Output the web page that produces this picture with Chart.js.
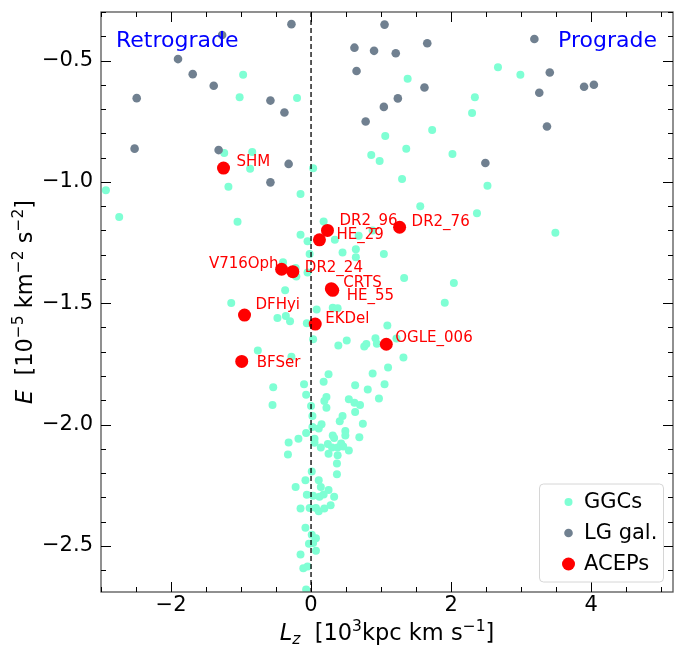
<!DOCTYPE html>
<html><head><meta charset="utf-8">
<script src="https://cdn.jsdelivr.net/npm/chart.js@4.4.0/dist/chart.umd.min.js"></script>
<style>html,body{margin:0;padding:0;background:#fff;}</style>
</head><body>
<canvas id="c" width="674" height="646" style="width:674px;height:646px;display:block"></canvas>
<script>
// ---- data ----
const ggcX = [-0.97,-1.02,-0.20,-1.24,-0.84,-0.87,0.03,-1.18,-0.15,-2.93,
 2.67,1.38,2.34,2.30,1.73,1.06,1.36,0.86,0.98,2.02,1.30,2.52,1.56,
 2.99,2.37,3.49,
 -2.74,-1.05,-0.15,-0.05,0.18,-0.02,-0.40,-0.22,-0.21,-0.05,-0.37,-1.14,0.08,-0.48,-0.36,-0.30,-0.06,0.03,-0.76,-0.28,-0.54,-0.10,0.18,
 0.34,0.68,0.88,0.45,0.64,0.64,1.04,1.33,2.04,1.91,0.31,0.38,1.09,0.51,0.39,0.76,0.79,0.92,0.94,1.22,1.32,1.10,0.88,0.25,0.63,0.81,1.05,
 -0.55,-0.07,0.00,0.02,-0.07,-0.18,-0.32,-0.33,0.05,0.14,0.01,-0.08,-0.22,-0.06,-0.15,-0.02,-0.08,0.01,-0.03,-0.15,-0.11,-0.07,
 0.22,0.19,0.97,0.54,0.62,0.70,0.22,0.63,0.45,0.41,0.74,0.15,0.02,0.11,0.05,0.31,0.33,0.49,0.49,0.69,0.24,0.30,0.25,0.38,0.43,0.46,0.54,0.38,0.37,0.37,0.11,0.14,0.25,0.18,0.33,0.12,0.03,0.07,0.11,0.19,0.28,0.07,0.03,0.07,-0.05];
const ggcY = [-0.559,-0.651,-0.654,-0.881,-0.877,-0.946,-0.944,-1.02,-1.05,-1.034,
 -0.528,-0.575,-0.651,-0.716,-0.786,-0.811,-0.864,-0.889,-0.914,-0.885,-0.988,-1.016,-1.10,
 -0.559,-1.129,-1.21,
 -1.145,-1.164,-1.218,-1.245,-1.163,-1.297,-1.331,-1.355,-1.39,-1.373,-1.447,-1.499,-1.526,-1.561,-1.553,-1.574,-1.583,-1.648,-1.695,-1.721,-1.846,-1.834,-1.824,
 -1.238,-1.222,-1.20,-1.291,-1.278,-1.311,-1.297,-1.396,-1.417,-1.498,-1.519,-1.521,-1.592,-1.654,-1.674,-1.678,-1.668,-1.644,-1.667,-1.645,-1.724,-1.765,-1.79,-1.793,-1.838,-1.856,-1.834,
 -1.919,-1.877,-1.924,-1.965,-2.035,-2.059,-2.074,-2.123,-2.059,-2.095,-2.193,-2.229,-2.257,-2.289,-2.346,-2.344,-2.425,-2.454,-2.491,-2.535,-2.592,-2.68,
 -1.886,-1.903,-1.893,-1.896,-1.91,-1.919,-1.931,-1.948,-1.965,-1.986,-1.997,-1.999,-2.01,-2.016,-2.075,-2.045,-2.055,-2.027,-2.045,-2.052,-2.08,-2.095,-2.12,-2.095,-2.078,-2.09,-2.107,-2.126,-2.16,-2.205,-2.23,-2.257,-2.27,-2.288,-2.298,-2.298,-2.293,-2.344,-2.357,-2.346,-2.333,-2.468,-2.488,-2.52,-2.585];
const lgX = [-0.28,-1.27,-1.90,-1.69,-1.39,-2.49,-0.58,-0.38,-2.52,-1.32,-0.32,-0.58,
 1.05,0.62,0.90,1.21,1.66,0.65,1.62,1.24,1.04,0.78,2.49,3.19,3.41,3.26,3.90,4.04,3.37];
const lgY = [-0.35,-0.395,-0.494,-0.556,-0.604,-0.655,-0.665,-0.714,-0.863,-0.869,-0.926,-1.002,
 -0.352,-0.447,-0.46,-0.47,-0.429,-0.543,-0.611,-0.656,-0.691,-0.751,-0.922,-0.411,-0.549,-0.633,-0.608,-0.60,-0.772];
const acepNames = ['SHM','V716Oph','DR2_24','DFHyi','BFSer','EKDel','HE_29','DR2_96','DR2_76','CRTS','HE_55','OGLE_006'];
const acepX = [-1.25,-0.42,-0.26,-0.95,-0.99,0.06,0.12,0.235,1.265,0.29,0.31,1.075];
const acepY = [-0.943,-1.36,-1.37,-1.549,-1.74,-1.586,-1.239,-1.20,-1.187,-1.44,-1.447,-1.669];
const xTicks = [-2,0,2,4];
const yTicks = [-2.5,-2.0,-1.5,-1.0,-0.5];
const seriesNames = ['GGCs','LG gal.','ACEPs'];

// ---- styling (label offsets in px relative to the point) ----
const labelStyle = {
 'SHM':[13,-6,'left'],'V716Oph':[-3,-5,'right'],'DR2_24':[12,-4,'left'],'DFHyi':[11,-10,'left'],
 'BFSer':[15,2,'left'],'EKDel':[10,-5,'left'],'HE_29':[17,-5,'left'],'DR2_96':[12,-9,'left'],
 'DR2_76':[12,-5,'left'],'CRTS':[12,-6,'left'],'HE_55':[14,6,'left'],'OGLE_006':[9,-6,'left']};
const FONT = 'DejaVu Sans';
const C_GGC = '#7fffd4', C_LG = '#708090', C_ACEP = '#ff0000';

const pts = (xs, ys) => xs.map((x,i)=>({x:x, y:ys[i]}));
const fmt = v => (v<0?'\u2212':'') + Math.abs(v);
const noPad = s => { s.paddingTop = 0; s.paddingBottom = 0; s.paddingLeft = 0; s.paddingRight = 0; };

function drawRich(ctx, parts, x, y){
  let w = 0;
  parts.forEach(p=>{ ctx.font = p.f; w += ctx.measureText(p.t).width; });
  let cx = x - w/2;
  ctx.textAlign = 'left'; ctx.textBaseline = 'alphabetic';
  parts.forEach(p=>{ ctx.font = p.f; ctx.fillText(p.t, cx, y + (p.dy||0)); cx += ctx.measureText(p.t).width; });
}

const decor = {
  id:'decor',
  afterDatasetsDraw(chart){
    const ctx = chart.ctx, a = chart.chartArea, xs = chart.scales.x, ys = chart.scales.y;
    ctx.save();
    // dashed zero line
    const x0 = xs.getPixelForValue(0);
    ctx.strokeStyle = '#000'; ctx.lineWidth = 1.3; ctx.setLineDash([5,3]);
    ctx.beginPath(); ctx.moveTo(x0, a.top); ctx.lineTo(x0, a.bottom); ctx.stroke();
    ctx.setLineDash([]);
    // ACEP labels
    ctx.fillStyle = C_ACEP; ctx.font = '15px "'+FONT+'"'; ctx.textBaseline = 'middle';
    acepNames.forEach((n,i)=>{
      const s = labelStyle[n];
      const px = xs.getPixelForValue(acepX[i]), py = ys.getPixelForValue(acepY[i]);
      ctx.textAlign = s[2]; ctx.fillText(n, px + s[0], py + s[1]);
    });
    // region labels
    ctx.fillStyle = '#0000ff'; ctx.font = '22px "'+FONT+'"'; ctx.textBaseline = 'middle';
    ctx.textAlign = 'left'; ctx.fillText('Retrograde', a.left + 15, a.top + 29);
    ctx.textAlign = 'right'; ctx.fillText('Prograde', a.right - 16, a.top + 29);
    // frame
    ctx.strokeStyle = '#555'; ctx.lineWidth = 1.3;
    ctx.strokeRect(a.left, a.top, a.right - a.left, a.bottom - a.top);
    // ticks (inward, all sides)
    ctx.strokeStyle = '#000'; ctx.lineWidth = 1;
    ctx.beginPath();
    for (let v = -3; v <= 5.2; v += 0.5) {
      const px = Math.round(xs.getPixelForValue(v)) + 0.5;
      if (px < a.left || px > a.right) continue;
      const L = (Math.abs(v % 2) < 1e-9) ? 10 : 5;
      ctx.moveTo(px, a.bottom); ctx.lineTo(px, a.bottom - L);
      ctx.moveTo(px, a.top); ctx.lineTo(px, a.top + L);
    }
    for (let k = -27; k <= -3; k++) {
      const v = k/10;
      const py = Math.round(ys.getPixelForValue(v)) + 0.5;
      if (py < a.top || py > a.bottom) continue;
      const L = (k % 5 === 0) ? 10 : 5;
      ctx.moveTo(a.left, py); ctx.lineTo(a.left + L, py);
      ctx.moveTo(a.right, py); ctx.lineTo(a.right - L, py);
    }
    ctx.stroke();
    // legend
    const bx = 539.5, by = 484, bw = 124, bh = 98;
    ctx.fillStyle = 'rgba(255,255,255,0.85)'; ctx.strokeStyle = '#d6d6d6'; ctx.lineWidth = 1;
    ctx.beginPath(); ctx.roundRect(bx, by, bw, bh, 4); ctx.fill(); ctx.stroke();
    const cols = [C_GGC, C_LG, C_ACEP], rad = [4, 4.3, 6.5], ly = [502, 533, 564];
    ctx.font = '21px "'+FONT+'"'; ctx.textAlign = 'left'; ctx.textBaseline = 'middle';
    seriesNames.forEach((n,i)=>{
      ctx.fillStyle = cols[i]; ctx.beginPath(); ctx.arc(568.5, ly[i], rad[i], 0, Math.PI*2); ctx.fill();
      ctx.fillStyle = '#000'; ctx.fillText(n, 584, ly[i] + 1);
    });
    // axis titles
    ctx.fillStyle = '#000';
    const big = '22.5px "'+FONT+'"', bigI = 'italic 22.5px "'+FONT+'"', sm = '15.5px "'+FONT+'"', smI = 'italic 15.5px "'+FONT+'"';
    drawRich(ctx, [{t:'L',f:bigI},{t:'z',f:smI,dy:4},{t:'  [10',f:big},{t:'3',f:sm,dy:-9},{t:'kpc km s',f:big},{t:'\u22121',f:sm,dy:-9},{t:']',f:big}],
      (a.left + a.right)/2, 640);
    ctx.translate(32, (a.top + a.bottom)/2); ctx.rotate(-Math.PI/2);
    drawRich(ctx, [{t:'E',f:bigI},{t:'  [10',f:big},{t:'\u22125',f:sm,dy:-9},{t:' km',f:big},{t:'\u22122',f:sm,dy:-9},{t:' s',f:big},{t:'\u22122',f:sm,dy:-9},{t:']',f:big}], 0, 0);
    ctx.restore();
  }
};

new Chart(document.getElementById('c'), {
  type:'scatter',
  data:{ datasets:[
    {label:seriesNames[0], data:pts(ggcX, ggcY), backgroundColor:C_GGC, pointRadius:4, pointBorderWidth:0, order:3},
    {label:seriesNames[1], data:pts(lgX, lgY), backgroundColor:C_LG, pointRadius:4.3, pointBorderWidth:0, order:2},
    {label:seriesNames[2], data:pts(acepX, acepY), backgroundColor:C_ACEP, pointRadius:6.5, pointBorderWidth:0, order:1}
  ]},
  options:{
    responsive:false, animation:false, devicePixelRatio:1,
    layout:{autoPadding:false, padding:{top:12, right:1, left:0, bottom:0}},
    plugins:{legend:{display:false}, tooltip:{enabled:false}},
    scales:{
      x:{type:'linear', min:-3, max:5.17, position:'bottom',
        grid:{display:false, drawTicks:false}, border:{display:false},
        ticks:{font:{family:FONT, size:21}, color:'#000', padding:1, autoSkip:false, maxRotation:0, callback:v=>fmt(v)},
        afterBuildTicks:s=>{ s.ticks = xTicks.map(v=>({value:v})); },
        afterFit:s=>{ s.height = 54; noPad(s); }},
      y:{type:'linear', min:-2.69, max:-0.3,
        grid:{display:false, drawTicks:false}, border:{display:false},
        ticks:{font:{family:FONT, size:21}, color:'#000', padding:8, autoSkip:false, callback:v=>(v<0?'\u2212':'')+Math.abs(v).toFixed(1)},
        afterBuildTicks:s=>{ s.ticks = yTicks.map(v=>({value:v})); },
        afterFit:s=>{ s.width = 101; noPad(s); }}
    }
  },
  plugins:[decor]
});
</script>
</body></html>
